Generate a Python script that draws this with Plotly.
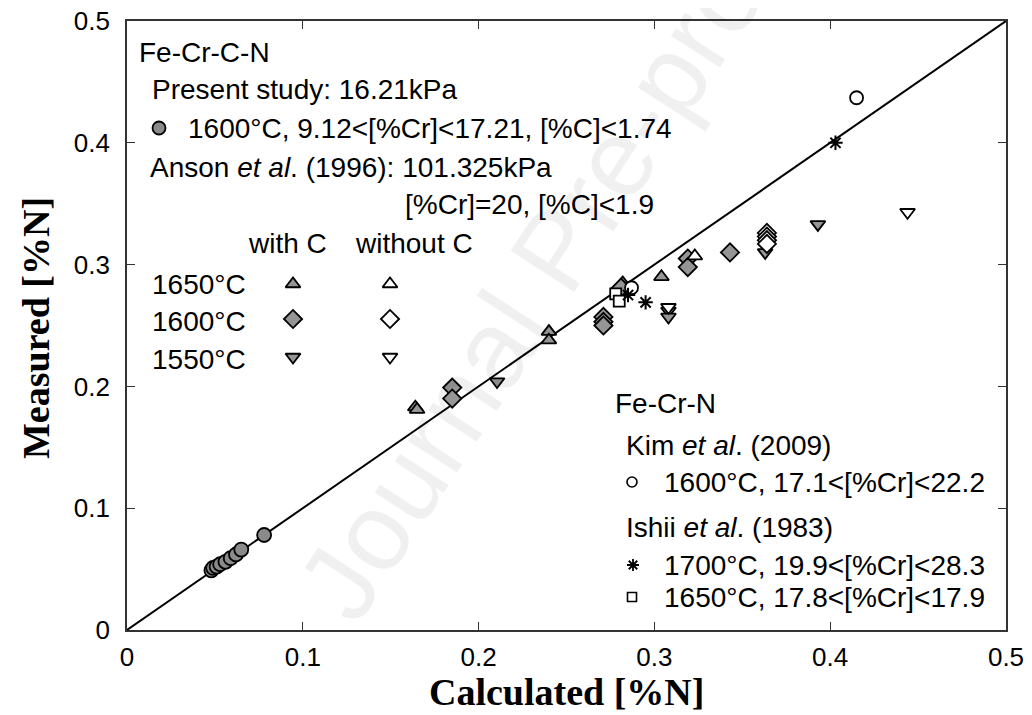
import plotly.graph_objects as go

# ---------------- data ----------------
present_x = [0.048, 0.049, 0.051, 0.053, 0.056, 0.059, 0.062, 0.065, 0.078]
present_y = [0.049, 0.051, 0.052, 0.054, 0.056, 0.059, 0.062, 0.066, 0.078]

anson1650C_x = [0.164, 0.165, 0.240, 0.240, 0.281, 0.282, 0.304]
anson1650C_y = [0.183, 0.181, 0.245, 0.238, 0.279, 0.285, 0.290]
anson1650_x = [0.323]
anson1650_y = [0.307]

anson1600C_x = [0.185, 0.185, 0.271, 0.271, 0.271, 0.281, 0.319, 0.319, 0.343]
anson1600C_y = [0.199, 0.190, 0.257, 0.253, 0.250, 0.281, 0.305, 0.298, 0.310]
anson1600_x = [0.364, 0.364, 0.364, 0.364]
anson1600_y = [0.326, 0.323, 0.320, 0.317]

anson1550C_x = [0.2105, 0.308, 0.308, 0.363, 0.393]
anson1550C_y = [0.204, 0.262, 0.257, 0.310, 0.333]
anson1550_x = [0.308, 0.444]
anson1550_y = [0.265, 0.343]

kim_x = [0.287, 0.415]
kim_y = [0.281, 0.437]

ishii1700_x = [0.285, 0.295, 0.403]
ishii1700_y = [0.275, 0.269, 0.400]
ishii1650_x = [0.278, 0.280]
ishii1650_y = [0.276, 0.270]

diag = [0, 0.5]
tick_vals = [0, 0.1, 0.2, 0.3, 0.4, 0.5]
tick_text = ["0", "0.1", "0.2", "0.3", "0.4", "0.5"]

# ---------------- layout geometry ----------------
W, H = 1032, 715
OFF = 8                      # page body margin offset in the browser
PL, PT, PR, PB = 127, 21, 1006, 630   # plot area in window pixels
PW, PH = PR - PL, PB - PT
L, T = PL - OFF, PT - OFF
R = W - L - PW
B = H - T - PH


def fx(px):
    return (px - PL) / PW


def fy(py):
    return (PB - py) / PH


SANS = "Liberation Sans, Arial, sans-serif"
SERIF = "Liberation Serif, Times New Roman, serif"
GRAY = "#959595"
CGRAY = "#8a8a8a"
OUT = dict(color="black", width=1.8)

fig = go.Figure()

fig.add_trace(go.Scatter(x=diag, y=diag, mode="lines",
                         line=dict(color="black", width=2), hoverinfo="skip"))


def pts(x, y, symbol, fill, size=13, line=OUT):
    fig.add_trace(go.Scatter(x=x, y=y, mode="markers", cliponaxis=False,
                             marker=dict(symbol=symbol, size=size, color=fill, line=line)))


pts(present_x, present_y, "circle", CGRAY, 14)
pts(anson1650C_x, anson1650C_y, "triangle-up", GRAY, 13)
pts(anson1600C_x, anson1600C_y, "diamond", GRAY, 14)
pts(anson1550C_x, anson1550C_y, "triangle-down", GRAY, 13)
pts(anson1650_x, anson1650_y, "triangle-up", "white", 13)
pts(anson1600_x, anson1600_y, "diamond", "white", 14)
pts(anson1550_x, anson1550_y, "triangle-down", "white", 13)
pts(kim_x, kim_y, "circle", "white", 13)
pts(ishii1650_x, ishii1650_y, "square", "white", 11)
pts(ishii1700_x, ishii1700_y, "asterisk-open", "black", 12, dict(color="black", width=2))

# legend key markers on an overlay axis spanning the plot area
keys = [
    (159, 128, "circle", CGRAY, 13, OUT),
    (293, 284, "triangle-up", GRAY, 13, OUT),
    (390, 284, "triangle-up", "white", 13, OUT),
    (293, 319, "diamond", GRAY, 14, OUT),
    (390, 319, "diamond", "white", 14, OUT),
    (293, 357, "triangle-down", GRAY, 13, OUT),
    (390, 357, "triangle-down", "white", 13, OUT),
    (632, 482, "circle", "white", 10, dict(color="black", width=1.6)),
    (633, 565, "asterisk-open", "black", 10, dict(color="black", width=1.8)),
    (632, 597, "square", "white", 9, dict(color="black", width=1.6)),
]
for kx, ky, sym, col, sz, ln in keys:
    fig.add_trace(go.Scatter(x=[fx(kx)], y=[fy(ky)], xaxis="x2", yaxis="y2",
                             mode="markers", cliponaxis=False,
                             marker=dict(symbol=sym, size=sz, color=col, line=ln)))

# text labels
labels = [
    (137, 52, "Fe-Cr-C-N"),
    (150, 90, "Present study: 16.21kPa"),
    (186, 128, "1600°C, 9.12<[%Cr]<17.21, [%C]<1.74"),
    (148, 167, "Anson <i>et al</i>. (1996): 101.325kPa"),
    (403, 205, "[%Cr]=20, [%C]<1.9"),
    (246, 243, "with C"),
    (353, 243, "without C"),
    (150, 284, "1650°C"),
    (150, 321, "1600°C"),
    (150, 359, "1550°C"),
    (613, 403, "Fe-Cr-N"),
    (624, 446, "Kim <i>et al</i>. (2009)"),
    (662, 482, "1600°C, 17.1<[%Cr]<22.2"),
    (624, 527, "Ishii <i>et al</i>. (1983)"),
    (662, 565, "1700°C, 19.9<[%Cr]<28.3"),
    (662, 597, "1650°C, 17.8<[%Cr]<17.9"),
]
ann = []
for lx, ly, txt in labels:
    ann.append(dict(x=fx(lx), y=fy(ly), xref="paper", yref="paper", text=txt,
                    showarrow=False, xanchor="left", yanchor="middle",
                    font=dict(family=SANS, size=28, color="black")))

# axis titles
ann.append(dict(x=fx(566), y=fy(692), xref="paper", yref="paper",
                text="<b>Calculated [%N]</b>", showarrow=False,
                xanchor="center", yanchor="middle",
                font=dict(family=SERIF, size=38, color="black")))
ann.append(dict(x=fx(36), y=fy(328), xref="paper", yref="paper",
                text="<b>Measured [%N]</b>", showarrow=False, textangle=-90,
                xanchor="center", yanchor="middle",
                font=dict(family=SERIF, size=38, color="black")))

# faint watermark
ann.append(dict(x=fx(555), y=fy(250), xref="paper", yref="paper",
                text="Journal Pre-proof", showarrow=False, textangle=-57,
                xanchor="center", yanchor="middle",
                font=dict(family=SANS, size=110, color="rgba(0,0,0,0.06)")))

axis_common = dict(range=[0, 0.5], tickvals=tick_vals, ticktext=tick_text,
                   ticks="inside", ticklen=8, tickwidth=1.3, tickcolor="#333",
                   showline=True, linecolor="#333", linewidth=1.6, mirror="ticks",
                   showgrid=False, zeroline=False, automargin=False,
                   ticklabeloverflow="allow",
                   tickfont=dict(family=SANS, size=26, color="black"))

fig.update_layout(
    width=W, height=H,
    margin=dict(l=L, r=R, t=T, b=B, pad=0, autoexpand=False),
    paper_bgcolor="white", plot_bgcolor="white",
    showlegend=False,
    xaxis=dict(**axis_common, ticklabelstandoff=3),
    yaxis=dict(**axis_common, ticklabelstandoff=10),
    xaxis2=dict(overlaying="x", range=[0, 1], visible=False, fixedrange=True),
    yaxis2=dict(overlaying="y", range=[0, 1], visible=False, fixedrange=True),
    annotations=ann,
)

fig.write_html("out.html")
